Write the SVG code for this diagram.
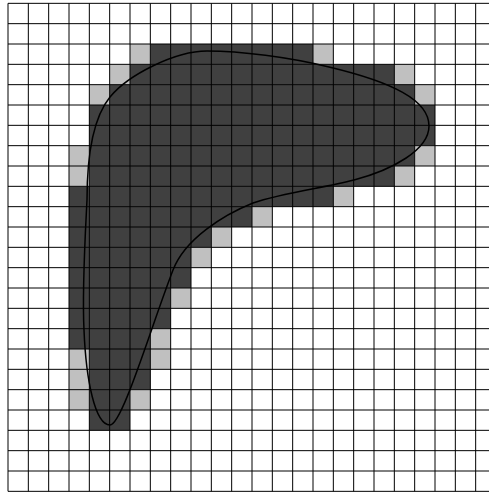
<svg xmlns="http://www.w3.org/2000/svg" width="489" height="494" viewBox="0 0 489 494">
<style>
.d{fill:#404040}
.l{fill:#c0c0c0}
.g{fill:none;stroke:#000;stroke-width:1}
.c{fill:none;stroke:#000;stroke-width:1.5}
</style>
<rect width="489" height="494" fill="#fff"/>
<g id="dark-cells">
<rect class="d" x="150.33" y="44" width="162.67" height="20.33"/>
<rect class="d" x="130" y="64.33" width="264.33" height="20.33"/>
<rect class="d" x="109.67" y="84.67" width="305" height="20.33"/>
<rect class="d" x="89.33" y="105" width="345.67" height="40.67"/>
<rect class="d" x="89.33" y="145.67" width="325.33" height="20.33"/>
<rect class="d" x="89.33" y="166" width="305" height="20.33"/>
<rect class="d" x="69" y="186.33" width="264.33" height="20.33"/>
<rect class="d" x="69" y="206.67" width="183" height="20.33"/>
<rect class="d" x="69" y="227" width="142.33" height="20.33"/>
<rect class="d" x="69" y="247.33" width="122" height="40.67"/>
<rect class="d" x="69" y="288" width="101.67" height="40.67"/>
<rect class="d" x="69" y="328.67" width="81.33" height="20.33"/>
<rect class="d" x="89.33" y="349" width="61" height="40.67"/>
<rect class="d" x="89.33" y="389.67" width="40.67" height="40.67"/>
</g>
<g id="light-cells">
<rect class="l" x="130" y="44" width="20.33" height="20.33"/>
<rect class="l" x="313" y="44" width="20.33" height="20.33"/>
<rect class="l" x="109.67" y="64.33" width="20.33" height="20.33"/>
<rect class="l" x="394.33" y="64.33" width="20.33" height="20.33"/>
<rect class="l" x="89.33" y="84.67" width="20.33" height="20.33"/>
<rect class="l" x="414.67" y="84.67" width="20.33" height="20.33"/>
<rect class="l" x="69" y="145.67" width="20.33" height="40.67"/>
<rect class="l" x="414.67" y="145.67" width="20.33" height="20.33"/>
<rect class="l" x="394.33" y="166" width="20.33" height="20.33"/>
<rect class="l" x="333.33" y="186.33" width="20.33" height="20.33"/>
<rect class="l" x="252" y="206.67" width="20.33" height="20.33"/>
<rect class="l" x="211.33" y="227" width="20.33" height="20.33"/>
<rect class="l" x="191" y="247.33" width="20.33" height="20.33"/>
<rect class="l" x="170.67" y="288" width="20.33" height="20.33"/>
<rect class="l" x="150.33" y="328.67" width="20.33" height="40.67"/>
<rect class="l" x="69" y="349" width="20.33" height="61"/>
<rect class="l" x="130" y="389.67" width="20.33" height="20.33"/>
</g>
<g id="grid">
<path class="g" d="M8,3.33V491.33M28.33,3.33V491.33M48.67,3.33V491.33M69,3.33V491.33M89.33,3.33V491.33M109.67,3.33V491.33M130,3.33V491.33M150.33,3.33V491.33M170.67,3.33V491.33M191,3.33V491.33M211.33,3.33V491.33M231.67,3.33V491.33M252,3.33V491.33M272.33,3.33V491.33M292.67,3.33V491.33M313,3.33V491.33M333.33,3.33V491.33M353.67,3.33V491.33M374,3.33V491.33M394.33,3.33V491.33M414.67,3.33V491.33M435,3.33V491.33M455.33,3.33V491.33M475.67,3.33V491.33"/>
<path class="g" d="M8,3.33H489M8,23.67H489M8,44H489M8,64.33H489M8,84.67H489M8,105H489M8,125.33H489M8,145.67H489M8,166H489M8,186.33H489M8,206.67H489M8,227H489M8,247.33H489M8,267.67H489M8,288H489M8,308.33H489M8,328.67H489M8,349H489M8,369.33H489M8,389.67H489M8,410H489M8,430.33H489M8,450.67H489M8,471H489M8,491.33H489"/>
</g>
<g id="outline">
<path class="c" d="M110,425 C122,425 150,330 173,270 C185,239 223,215 253,203 C283,192.5 324,188 354,180 C392,170 429,150 429,126 C429,100 392,82 329,67 C289,57 240,51 207,51 C175,51 128,75 110,97 C92,119 87,160 87,200 C85,240 82,290 84,330 C86,380 95,425 110,425 Z"/>
</g>
</svg>
